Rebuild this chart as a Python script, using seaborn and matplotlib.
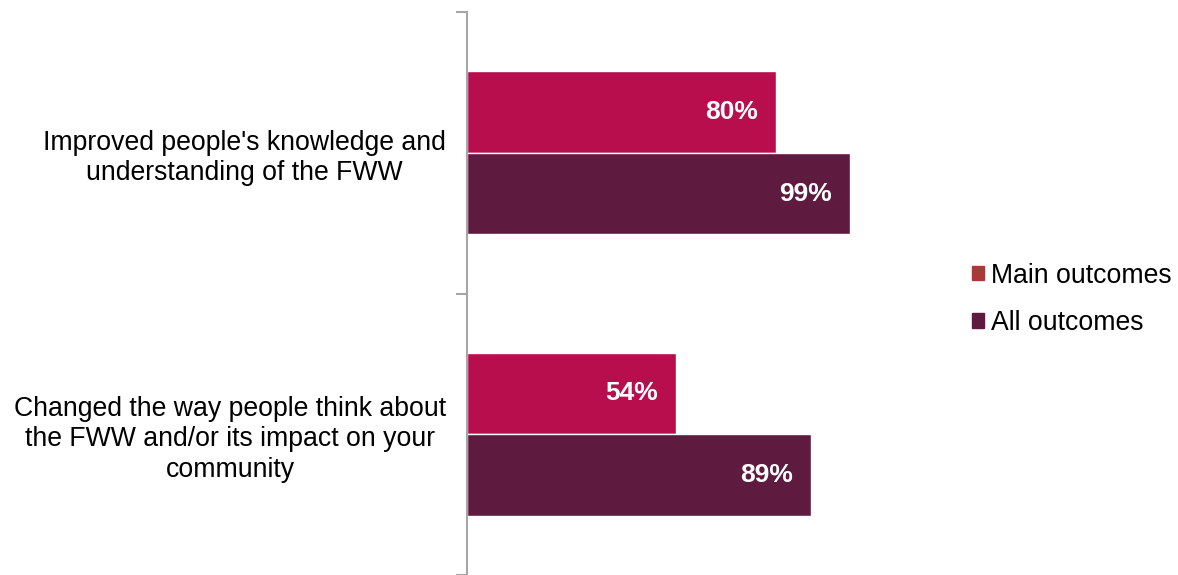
import pandas as pd
import matplotlib.pyplot as plt
import seaborn as sns

# Datos del gráfico
categories = ["Improved people's knowledge and\nunderstanding of the FWW",
              "Changed the way people think about\nthe FWW and/or its impact on your\ncommunity"]
series = ["Main outcomes", "All outcomes"]
main_values = [80, 54]
all_values = [99, 89]

df = pd.DataFrame({
    "Category": categories * 2,
    "Series": [series[0]] * 2 + [series[1]] * 2,
    "Value": main_values + all_values,
})

bar_colors = {"Main outcomes": "#B80E4E", "All outcomes": "#5E1A3F"}
legend_colors = ["#A83A3A", "#5E1A3F"]

sns.set_theme(style="white")
plt.rcParams['font.family'] = ['Liberation Sans', 'DejaVu Sans']

fig = plt.figure(figsize=(11.78, 5.75), dpi=100)
ax = fig.add_axes([0.3964, 0.0, 0.394, 0.979])

sns.barplot(data=df, y="Category", x="Value", hue="Series", hue_order=series,
            palette=bar_colors, width=0.58, orient="h", ax=ax, saturation=1)

# Etiquetas dentro del extremo de cada barra
for cont in ax.containers:
    ax.bar_label(cont, labels=[f"{int(v)}%" for v in cont.datavalues],
                 label_type="edge", padding=-51, color="white",
                 fontsize=19, fontweight="bold")

ax.set_xlim(0, 120)
ax.set_ylim(1.5, -0.5)
ax.set_xlabel("")
ax.set_ylabel("")
ax.set_xticks([])

for side in ["top", "right", "bottom"]:
    ax.spines[side].set_visible(False)
ax.spines["left"].set_color("#A6A6A6")
ax.spines["left"].set_linewidth(1.5)

ax.set_yticks([-0.5, 0.5, 1.5], minor=True)
ax.tick_params(axis="y", which="minor", length=8, width=1.5, color="#A6A6A6", left=True)
ax.tick_params(axis="y", which="major", length=0, labelsize=19.2, labelcolor="black", pad=15)
for lbl in ax.get_yticklabels():
    lbl.set_horizontalalignment("right")
    lbl.set_multialignment("center")
    lbl.set_linespacing(1.22)

leg = ax.legend(loc="center left", bbox_to_anchor=(1.037, 0.49), frameon=False,
                fontsize=19.2, handlelength=0.45, handleheight=0.45,
                handletextpad=0.25, labelspacing=0.8)
for h, c in zip(leg.legend_handles, legend_colors):
    h.set_facecolor(c)
    h.set_edgecolor(c)
for t in leg.get_texts():
    t.set_color("black")

plt.savefig("out.png", dpi=100)
